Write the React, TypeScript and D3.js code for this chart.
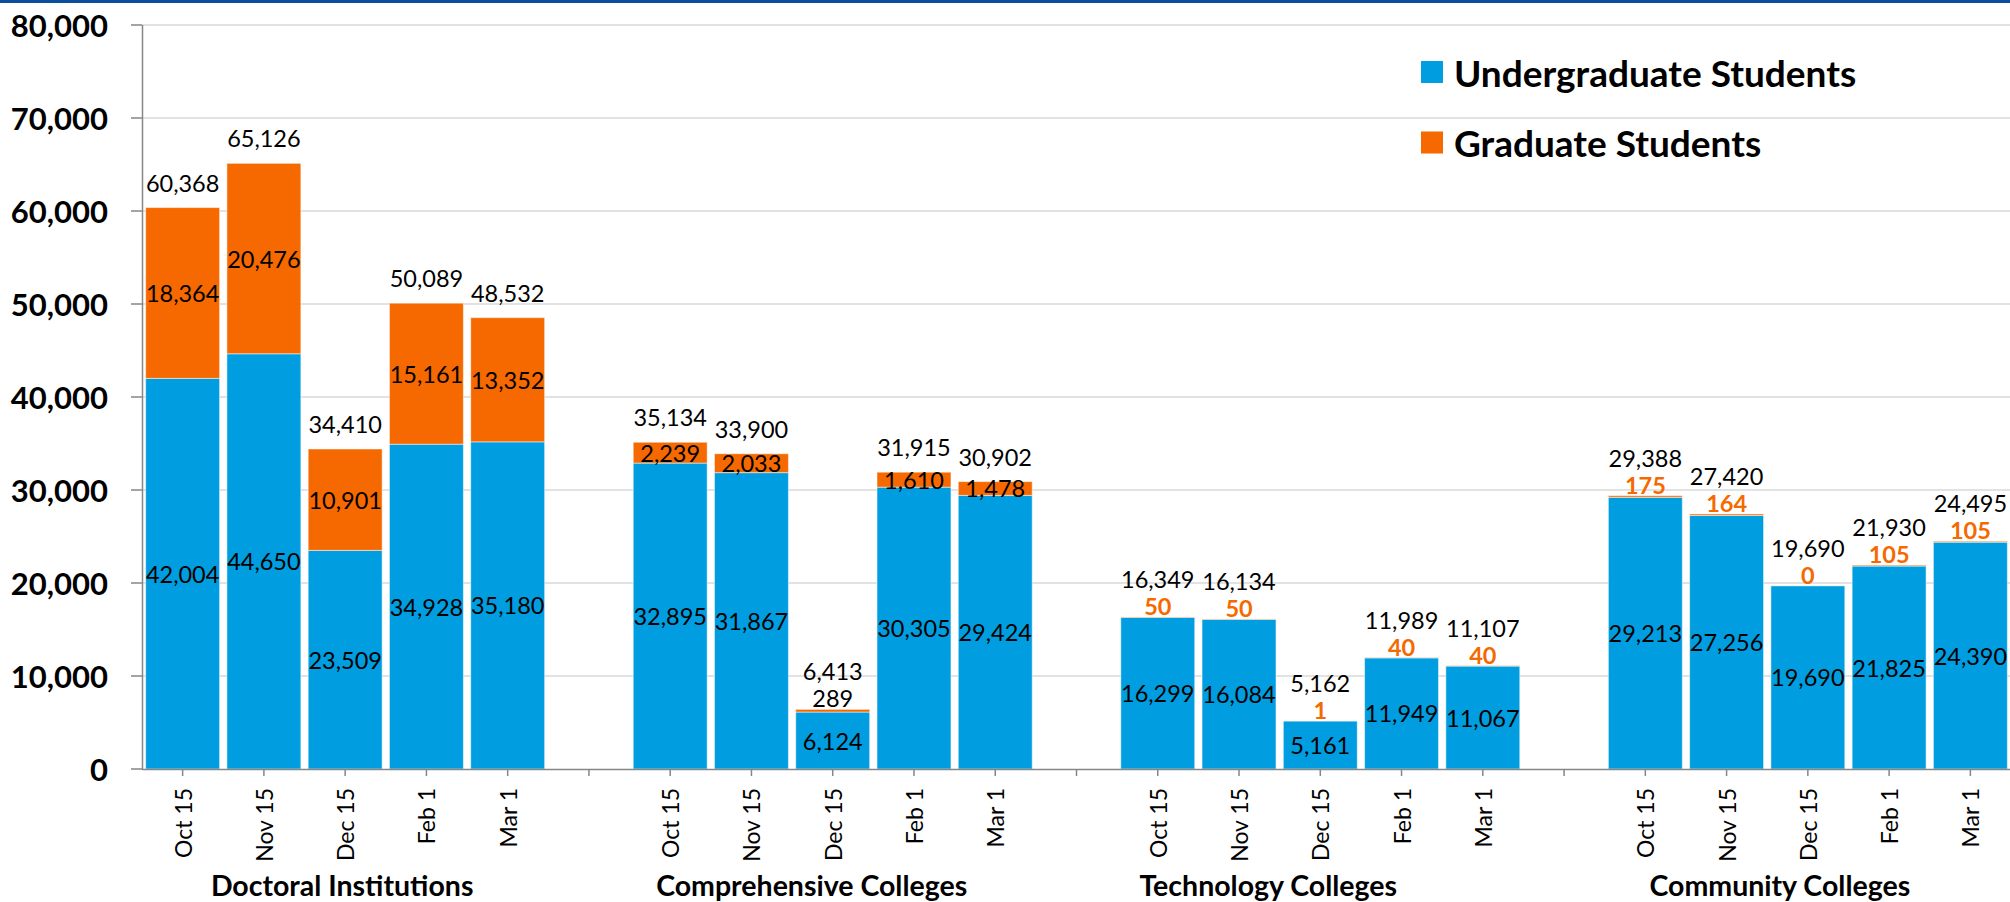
import React from "react";
import * as d3 from "d3";

const groups = [
  "Doctoral Institutions",
  "Comprehensive Colleges",
  "Technology Colleges",
  "Community Colleges",
];
const dates = ["Oct 15", "Nov 15", "Dec 15", "Feb 1", "Mar 1"];

const undergrad = [
  [42004, 44650, 23509, 34928, 35180],
  [32895, 31867, 6124, 30305, 29424],
  [16299, 16084, 5161, 11949, 11067],
  [29213, 27256, 19690, 21825, 24390],
];
const graduate = [
  [18364, 20476, 10901, 15161, 13352],
  [2239, 2033, 289, 1610, 1478],
  [50, 50, 1, 40, 40],
  [175, 164, 0, 105, 105],
];
const yTicks = [0, 10000, 20000, 30000, 40000, 50000, 60000, 70000, 80000];
const seriesNames = ["Undergraduate Students", "Graduate Students"];

// layout / style
const W = 2010;
const H = 902;
const BLUE = "#009ee0";
const ORANGE = "#f56900";
const FONT = "Lato, 'Open Sans', sans-serif";
const orangeLabelGroups = ["Technology Colleges", "Community Colleges"];
const groupLabelShift = [-3, -21, -52, -28];

const slotsPerGroup = dates.length + 1;
const nSlots = groups.length * slotsPerGroup - 1;

const App = () => {
  const x = d3
    .scaleBand<number>()
    .domain(d3.range(nSlots))
    .range([142, 2011])
    .paddingInner(0.09)
    .paddingOuter(0.045);
  const y = d3.scaleLinear().domain([0, 80000]).range([769, 25]);
  const fmt = d3.format(",");
  const bw = x.bandwidth();
  const cx = (s: number) => (x(s) as number) + bw / 2;

  const bars = groups.flatMap((g, gi) =>
    dates.map((d, di) => {
      const u = undergrad[gi][di];
      const gr = graduate[gi][di];
      return { g, gi, d, di, u, gr, total: u + gr, slot: gi * slotsPerGroup + di };
    })
  );

  return (
    <svg
      width={W}
      height={H}
      style={{ position: "absolute", left: 0, top: 0, background: "#fff" }}
      fontFamily={FONT}
    >
      <rect x={0} y={0} width={W} height={3} fill="#0b4f9c" />

      {/* gridlines */}
      {yTicks.slice(1).map((t) => (
        <line key={t} x1={142} x2={W} y1={y(t)} y2={y(t)} stroke="#d9d9d9" strokeWidth={1.5} />
      ))}

      {/* y axis */}
      <line x1={142.5} x2={142.5} y1={y(80000)} y2={y(0)} stroke="#868686" strokeWidth={1.5} />
      {yTicks.map((t) => (
        <g key={t}>
          <line x1={131} x2={142} y1={y(t)} y2={y(t)} stroke="#868686" strokeWidth={1.5} />
          <text
            x={108}
            y={y(t)}
            textAnchor="end"
            dominantBaseline="central"
            fontSize={31}
            fontWeight="bold"
          >
            {fmt(t)}
          </text>
        </g>
      ))}

      {/* bars */}
      {bars.map((b) => (
        <g key={b.slot}>
          <rect
            x={x(b.slot)}
            y={y(b.u)}
            width={bw}
            height={y(0) - y(b.u)}
            fill={BLUE}
            stroke="#fff"
            strokeOpacity={0.5}
            strokeWidth={1}
          />
          {b.gr > 0 && (
            <rect
              x={x(b.slot)}
              y={y(b.total)}
              width={bw}
              height={y(b.u) - y(b.total)}
              fill={ORANGE}
              stroke="#fff"
              strokeOpacity={0.5}
              strokeWidth={1}
            />
          )}
        </g>
      ))}

      {/* x axis */}
      <line x1={142} x2={W} y1={769.5} y2={769.5} stroke="#868686" strokeWidth={1.5} />
      {d3.range(nSlots).map((s) => (
        <line key={s} x1={cx(s)} x2={cx(s)} y1={769} y2={776} stroke="#868686" strokeWidth={1.5} />
      ))}
      {bars.map((b) => (
        <text
          key={"t" + b.slot}
          transform={`translate(${cx(b.slot)},788) rotate(-90)`}
          textAnchor="end"
          dominantBaseline="central"
          fontSize={23}
        >
          {b.d}
        </text>
      ))}
      {groups.map((g, gi) => (
        <text
          key={g}
          x={cx(gi * slotsPerGroup + 2) + groupLabelShift[gi]}
          y={896}
          textAnchor="middle"
          fontSize={28.5}
          fontWeight="bold"
        >
          {g}
        </text>
      ))}

      {/* data labels */}
      {bars.map((b) => {
        const above = b.gr < 1000;
        const orange = orangeLabelGroups.includes(b.g);
        const top = y(b.total);
        return (
          <g key={"l" + b.slot} fontSize={23.5} textAnchor="middle" dominantBaseline="central">
            <text x={cx(b.slot)} y={(y(0) + y(b.u)) / 2}>
              {fmt(b.u)}
            </text>
            <text
              x={cx(b.slot)}
              y={above ? top - 11 : (y(b.u) + top) / 2}
              fill={orange ? ORANGE : "#000"}
              fontWeight={orange ? "bold" : "normal"}
            >
              {fmt(b.gr)}
            </text>
            <text x={cx(b.slot)} y={top - (above ? 38 : 25)}>
              {fmt(b.total)}
            </text>
          </g>
        );
      })}

      {/* legend */}
      {seriesNames.map((n, i) => (
        <g key={n} transform={`translate(1421,${61 + i * 70.5})`}>
          <rect width={22} height={22} fill={i === 0 ? BLUE : ORANGE} />
          <text x={33} y={11} dominantBaseline="central" fontSize={37} fontWeight="bold">
            {n}
          </text>
        </g>
      ))}
    </svg>
  );
};

export default App;
